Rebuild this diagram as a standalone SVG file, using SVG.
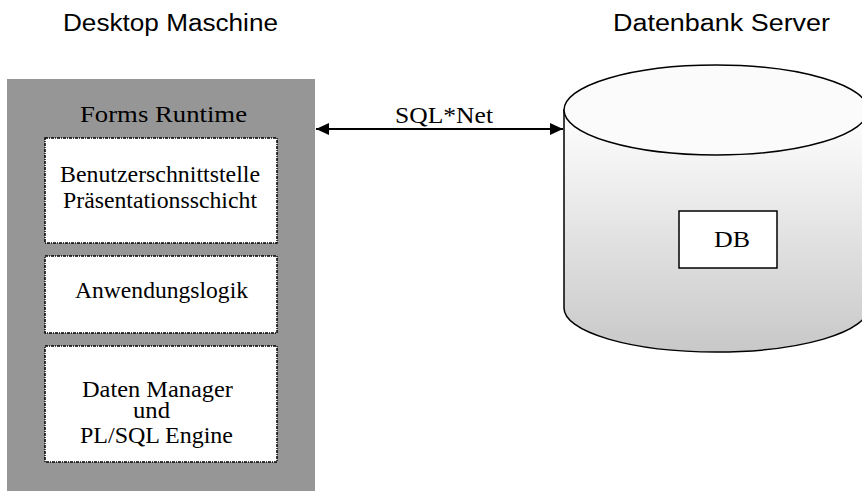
<svg xmlns="http://www.w3.org/2000/svg" width="862" height="492" viewBox="0 0 862 492">
<style>
.hd{font-family:"Liberation Sans",Arial,sans-serif;font-size:23px;fill:#000}
.tx{font-family:"Liberation Serif","Times New Roman",serif;font-size:23px;fill:#000}
.inner{fill:#fff;stroke:#000;stroke-width:1.5;stroke-dasharray:3 1 1 1}
.ln{fill:none;stroke:#000;stroke-width:1.8}
</style>
<defs>
<linearGradient id="cyl" x1="0" y1="0" x2="0" y2="1">
<stop offset="0" stop-color="#ffffff"/>
<stop offset="1" stop-color="#c8c8c8"/>
</linearGradient>
<marker id="ah" markerWidth="14" markerHeight="12" refX="13" refY="6" orient="auto-start-reverse" markerUnits="userSpaceOnUse">
<path d="M0,0 L13,6 L0,12 Z" fill="#000"/>
</marker>
</defs>
<text class="hd" x="63" y="31" textLength="215" lengthAdjust="spacingAndGlyphs">Desktop Maschine</text>
<text class="hd" x="613" y="31" textLength="217" lengthAdjust="spacingAndGlyphs">Datenbank Server</text>
<g id="desktop">
<rect x="7" y="79" width="308" height="412" fill="#969696"/>
<text class="tx" x="80" y="122" textLength="167" lengthAdjust="spacingAndGlyphs">Forms Runtime</text>
</g>
<g id="praesentation">
<rect class="inner" x="45" y="138" width="232" height="105"/>
<text class="tx" x="60" y="182" textLength="200" lengthAdjust="spacingAndGlyphs">Benutzerschnittstelle</text>
<text class="tx" x="63" y="208" textLength="194" lengthAdjust="spacingAndGlyphs">Präsentationsschicht</text>
</g>
<g id="anwendung">
<rect class="inner" x="45" y="256" width="232" height="77"/>
<text class="tx" x="75" y="298" textLength="173" lengthAdjust="spacingAndGlyphs">Anwendungslogik</text>
</g>
<g id="datenmanager">
<rect class="inner" x="45" y="346" width="232" height="116"/>
<text class="tx" x="82" y="397" textLength="151" lengthAdjust="spacingAndGlyphs">Daten Manager</text>
<text class="tx" x="133" y="418" textLength="37" lengthAdjust="spacingAndGlyphs">und</text>
<text class="tx" x="80" y="443" textLength="153" lengthAdjust="spacingAndGlyphs">PL/SQL Engine</text>
</g>
<g id="server">
<path d="M564,110 L564,308 A152,44 0 0 0 868,308 L868,110 Z" fill="url(#cyl)" stroke="#000" stroke-width="1.5"/>
<ellipse cx="716" cy="110" rx="152" ry="45" fill="#fbfbfb" stroke="#000" stroke-width="1.5"/>
</g>
<g id="db">
<rect x="679" y="211" width="98" height="57" fill="#fff" stroke="#000" stroke-width="1.5"/>
<text class="tx" x="714" y="247" textLength="36" lengthAdjust="spacingAndGlyphs">DB</text>
</g>
<g id="connectors">
<line class="ln" x1="316" y1="129" x2="563" y2="129" marker-start="url(#ah)" marker-end="url(#ah)"/>
<text class="tx" x="395" y="123" textLength="98" lengthAdjust="spacingAndGlyphs">SQL*Net</text>
</g>
</svg>
